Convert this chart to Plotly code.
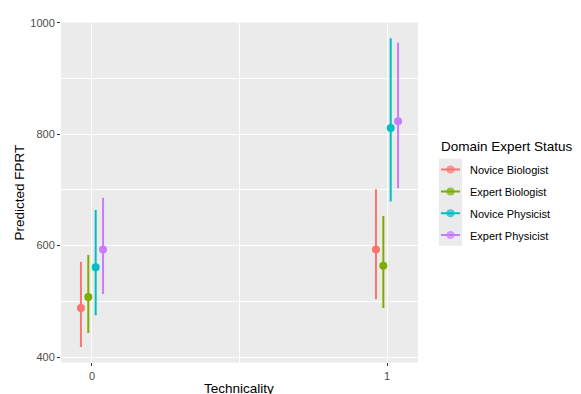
import plotly.graph_objects as go

# ---------------- data ----------------
technicality = [0, 1]
tick_labels = ["0", "1"]
groups = ["Novice Biologist", "Expert Biologist", "Novice Physicist", "Expert Physicist"]
colors = ["#F8766D", "#7CAE00", "#00BFC4", "#C77CFF"]

novice_bio_mean = [488, 593]
novice_bio_lower = [418, 504]
novice_bio_upper = [571, 701]

expert_bio_mean = [508, 564]
expert_bio_lower = [443, 488]
expert_bio_upper = [583, 653]

novice_phys_mean = [561, 811]
novice_phys_lower = [475, 679]
novice_phys_upper = [664, 972]

expert_phys_mean = [593, 823]
expert_phys_lower = [513, 703]
expert_phys_upper = [686, 964]

means = [novice_bio_mean, expert_bio_mean, novice_phys_mean, expert_phys_mean]
lowers = [novice_bio_lower, expert_bio_lower, novice_phys_lower, expert_phys_lower]
uppers = [novice_bio_upper, expert_bio_upper, novice_phys_upper, expert_phys_upper]

# ---------------- layout helpers ----------------
WIN_W, WIN_H = 581, 394
OFF = 8  # default page body margin
W, H = WIN_W - OFF, WIN_H - OFF
def px(x):
    return (x - OFF) / W
def py(y):
    return 1 - (y - OFF) / H

dodge = 0.025

fig = go.Figure()

for i, g in enumerate(groups):
    off = (i - 1.5) * dodge
    xs = [t + off for t in technicality]
    fig.add_trace(go.Scatter(
        x=xs, y=means[i], mode="markers", name=g, showlegend=False,
        marker=dict(color=colors[i], size=8, line=dict(width=0)),
        error_y=dict(type="data", symmetric=False,
                     array=[u - m for u, m in zip(uppers[i], means[i])],
                     arrayminus=[m - l for m, l in zip(means[i], lowers[i])],
                     width=0, thickness=2, color=colors[i]),
        xaxis="x", yaxis="y"))

# legend keys drawn on a small auxiliary axis
for i, g in enumerate(groups):
    fig.add_trace(go.Scatter(
        x=[0, 0.5, 1], y=[i, i, i], mode="lines+markers", showlegend=False,
        line=dict(color=colors[i], width=2),
        marker=dict(color=colors[i], size=[0, 8, 0], line=dict(width=0)),
        xaxis="x2", yaxis="y2", hoverinfo="skip"))

font_family = "Liberation Sans, Arial, sans-serif"

annotations = [
    dict(text="Predicted FPRT", x=px(20), y=py((16.7 + 362) / 2), xref="paper", yref="paper",
         textangle=-90, showarrow=False, font=dict(size=13.5, color="black", family=font_family),
         xanchor="center", yanchor="middle"),
    dict(text="Technicality", x=px(239.5), y=py(388), xref="paper", yref="paper",
         showarrow=False, font=dict(size=13.5, color="black", family=font_family),
         xanchor="center", yanchor="middle"),
    dict(text="Domain Expert Status", x=px(439), y=py(143), xref="paper", yref="paper",
         showarrow=False, font=dict(size=13.5, color="black", family=font_family),
         xanchor="left", yanchor="middle"),
]
for i, g in enumerate(groups):
    annotations.append(dict(text=g, x=px(468), y=py(166.7 + i * 22.2), xref="paper", yref="paper",
                            showarrow=False, font=dict(size=11, color="black", family=font_family),
                            xanchor="left", yanchor="middle"))

fig.update_layout(
    width=W, height=H,
    margin=dict(l=0, r=0, t=0, b=0, pad=0),
    paper_bgcolor="white",
    plot_bgcolor="#EBEBEB",
    font=dict(family=font_family, color="#4D4D4D", size=11),
    xaxis=dict(domain=[px(61), px(418)], range=[-0.105, 1.105],
               tickvals=technicality, ticktext=tick_labels,
               showgrid=True, gridcolor="white", gridwidth=1.1,
               minor=dict(tickvals=[0.5], showgrid=True, gridcolor="white", gridwidth=0.5, ticks=""),
               zeroline=False, showline=False,
               ticks="outside", ticklen=3, tickcolor="#333333", tickwidth=1,
               tickfont=dict(size=11, color="#4D4D4D"), anchor="y"),
    yaxis=dict(domain=[py(362), py(16.7)], range=[390.3, 1000.3],
               tickvals=[400, 600, 800, 1000],
               showgrid=True, gridcolor="white", gridwidth=1.1,
               minor=dict(tickvals=[500, 700, 900], showgrid=True, gridcolor="white", gridwidth=0.5, ticks=""),
               zeroline=False, showline=False,
               ticks="outside", ticklen=3, tickcolor="#333333", tickwidth=1,
               tickfont=dict(size=11, color="#4D4D4D"), anchor="x"),
    xaxis2=dict(domain=[px(439), px(462)], range=[-0.1, 1.1], visible=False, anchor="y2",
                showgrid=False, zeroline=False),
    yaxis2=dict(domain=[py(243.5), py(155)], range=[3.5, -0.5], visible=False, anchor="x2",
                showgrid=False, zeroline=False),
    annotations=annotations,
    showlegend=False,
)

fig.write_html("out.html")
